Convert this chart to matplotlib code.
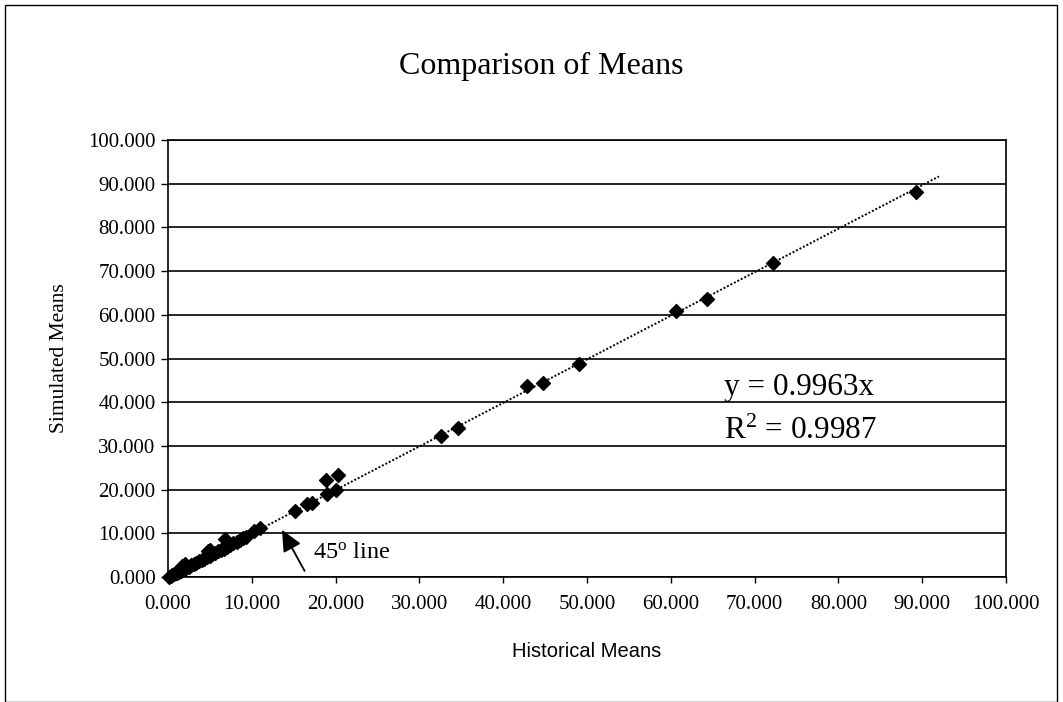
import matplotlib
matplotlib.use("Agg")
import matplotlib.pyplot as plt
from matplotlib.patches import Rectangle
import numpy as np

historical = [0.1, 0.3, 0.5, 0.7, 0.9, 1.1, 1.3, 1.5, 1.7, 1.9, 2.2, 2.5, 2.8, 3.1, 3.4,
              3.7, 4.0, 4.3, 4.6, 5.0, 5.3, 5.6, 6.0, 6.3, 6.7, 7.0, 7.4, 7.8, 8.2, 8.6,
              9.0, 9.3, 1.7, 2.0, 5.0, 6.8, 4.8, 10.3, 11.0, 15.2, 16.6, 17.2, 19.0, 20.1,
              18.9, 20.3, 32.6, 34.6, 42.8, 44.8, 49.0, 60.6, 64.3, 72.2, 89.3]
simulated = [0.1, 0.2, 0.5, 0.6, 0.9, 1.0, 1.2, 1.4, 1.7, 1.8, 2.1, 2.4, 2.7, 3.0, 3.3,
             3.6, 3.9, 4.2, 4.5, 4.8, 5.2, 5.5, 5.9, 6.2, 6.5, 6.9, 7.3, 7.7, 8.1, 8.5,
             8.9, 9.2, 2.6, 2.9, 6.2, 8.8, 5.9, 10.5, 11.3, 15.2, 16.6, 17.0, 19.0, 20.0,
             22.3, 23.3, 32.2, 34.0, 43.8, 44.3, 48.8, 60.8, 63.7, 71.8, 88.1]
slope = 0.9963
r2 = 0.9987
ticks = [0, 10, 20, 30, 40, 50, 60, 70, 80, 90, 100]
tick_labels = ["%.3f" % t for t in ticks]

plt.rcParams["mathtext.fontset"] = "custom"
plt.rcParams["mathtext.rm"] = "Liberation Serif"
plt.rcParams["mathtext.it"] = "Liberation Serif:italic"

W, H = 1063, 702
fig = plt.figure(figsize=(W / 100, H / 100), dpi=100)
serif = "Liberation Serif"
sans = "Liberation Sans"

# outer chart border
fig.patches.append(Rectangle((5 / W, 0.0), (1057 - 5) / W, (H - 5) / H,
                             transform=fig.transFigure, fill=False,
                             edgecolor="black", linewidth=1.0))

left, right, top, bottom = 168, 1006, 140, 577
ax = fig.add_axes([left / W, 1 - bottom / H, (right - left) / W, (bottom - top) / H])
ax.set_xlim(0, 100)
ax.set_ylim(0, 100)
ax.set_xticks(ticks)
ax.set_yticks(ticks)
ax.set_xticklabels(tick_labels, fontfamily=serif, fontsize=15)
ax.set_yticklabels(tick_labels, fontfamily=serif, fontsize=15)
ax.tick_params(axis="x", direction="out", length=4, width=1, color="black", pad=9)
ax.tick_params(axis="y", direction="out", length=5, width=1, color="black", pad=4)
for s in ax.spines.values():
    s.set_color("black")
    s.set_linewidth(1.2)
ax.grid(axis="y", color="black", linewidth=1.2)
ax.set_axisbelow(True)

xl = np.array([0, 92.0])
ax.plot(xl, slope * xl, linestyle=(0, (1, 1.0)), color="black", linewidth=1.4, zorder=2)
ax.scatter(historical, simulated, marker="D", s=50, color="black", zorder=3, clip_on=False)

ax.set_xlabel("Historical Means", fontfamily=sans, fontsize=14.5, labelpad=20)
ax.set_ylabel("Simulated Means", fontfamily=serif, fontsize=15.5, labelpad=14)

ax.text(0.6635, 41.6, "y = %.4fx" % slope, transform=ax.get_yaxis_transform(),
        fontfamily=serif, fontsize=22.5, ha="left", va="baseline")
ax.text(0.6635, 31.6, "R$^{\\mathrm{2}}$ = %.4f" % r2, transform=ax.get_yaxis_transform(),
        fontfamily=serif, fontsize=22.5, ha="left", va="baseline")

ax.annotate("", xy=(13.6, 10.8), xytext=(16.3, 1.4),
            arrowprops=dict(arrowstyle="-|>,head_length=1.3,head_width=0.6",
                            color="black", lw=1.3, shrinkA=0, shrinkB=0))
ax.text(17.3, 4.3, "45$^{\\mathrm{o}}$ line", fontfamily=serif, fontsize=17.5,
        ha="left", va="baseline")

fig.text(541 / W, 1 - 74 / H, "Comparison of Means", fontfamily=serif, fontsize=23,
         ha="center", va="baseline")

fig.savefig("out.png", dpi=100)
